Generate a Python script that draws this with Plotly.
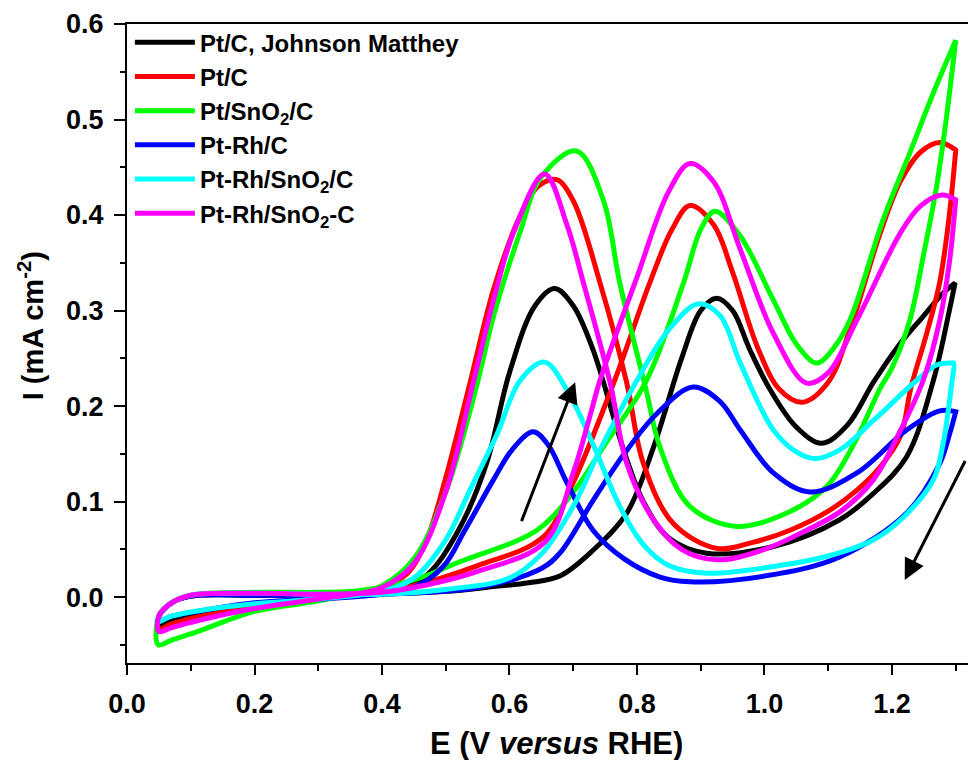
import plotly.graph_objects as go

# ---------------- data ----------------
series_names = ["Pt/C, Johnson Matthey", "Pt/C", "Pt/SnO<sub>2</sub>/C",
                "Pt-Rh/C", "Pt-Rh/SnO<sub>2</sub>/C", "Pt-Rh/SnO<sub>2</sub>-C"]
series_colors = ["#000000", "#FF0000", "#00FF00", "#0000FF", "#00FFFF", "#FF00FF"]

# Pt/C, Johnson Matthey (black)
jm_fwd_E = [0.05, 0.07, 0.10, 0.20, 0.30, 0.40, 0.50, 0.575, 0.63, 0.679, 0.731, 0.784, 0.826, 0.87, 0.90, 0.925, 0.95, 0.977, 1.009, 1.05, 1.09, 1.13, 1.171, 1.21, 1.249, 1.28, 1.299]
jm_fwd_I = [-0.02, -0.006, 0.001, 0.002, 0.002, 0.003, 0.006, 0.011, 0.015, 0.022, 0.049, 0.088, 0.157, 0.25, 0.30, 0.313, 0.300, 0.259, 0.217, 0.178, 0.161, 0.180, 0.225, 0.263, 0.294, 0.318, 0.329]
jm_bwd_E = [1.299, 1.29, 1.265, 1.223, 1.17, 1.118, 1.014, 0.909, 0.85, 0.81, 0.779, 0.731, 0.70, 0.671, 0.64, 0.60, 0.564, 0.52, 0.47, 0.42, 0.35, 0.27, 0.20, 0.12, 0.07, 0.05]
jm_bwd_I = [0.329, 0.30, 0.227, 0.147, 0.108, 0.081, 0.053, 0.046, 0.062, 0.10, 0.154, 0.259, 0.305, 0.323, 0.305, 0.235, 0.14, 0.07, 0.023, 0.008, 0.002, -0.004, -0.008, -0.016, -0.024, -0.03]

# Pt/C (red)
ptc_fwd_E = [0.05, 0.07, 0.10, 0.20, 0.30, 0.40, 0.45, 0.55, 0.653, 0.70, 0.765, 0.82, 0.855, 0.883, 0.92, 0.95, 0.99, 1.024, 1.059, 1.10, 1.134, 1.181, 1.213, 1.245, 1.275, 1.30]
ptc_fwd_I = [-0.02, -0.006, 0.001, 0.003, 0.003, 0.006, 0.012, 0.033, 0.063, 0.12, 0.227, 0.329, 0.385, 0.41, 0.39, 0.34, 0.26, 0.217, 0.204, 0.225, 0.28, 0.38, 0.435, 0.466, 0.476, 0.468]
ptc_bwd_E = [1.30, 1.29, 1.275, 1.254, 1.23, 1.213, 1.18, 1.145, 1.10, 1.04, 0.98, 0.925, 0.857, 0.81, 0.784, 0.742, 0.70, 0.674, 0.645, 0.616, 0.575, 0.538, 0.50, 0.47, 0.44, 0.40, 0.35, 0.27, 0.20, 0.115, 0.07, 0.05]
ptc_bwd_I = [0.468, 0.40, 0.33, 0.275, 0.22, 0.168, 0.135, 0.112, 0.09, 0.07, 0.057, 0.051, 0.077, 0.14, 0.224, 0.329, 0.415, 0.437, 0.43, 0.398, 0.322, 0.224, 0.125, 0.06, 0.025, 0.01, 0.003, -0.004, -0.01, -0.02, -0.028, -0.033]

# Pt/SnO2/C (green)
ptsn_fwd_E = [0.05, 0.07, 0.10, 0.20, 0.30, 0.366, 0.45, 0.522, 0.643, 0.70, 0.75, 0.815, 0.873, 0.90, 0.922, 0.96, 1.014, 1.05, 1.082, 1.11, 1.134, 1.186, 1.228, 1.265, 1.30]
ptsn_fwd_I = [-0.02, -0.006, 0.002, 0.005, 0.005, 0.007, 0.018, 0.037, 0.07, 0.11, 0.16, 0.227, 0.329, 0.385, 0.404, 0.38, 0.311, 0.265, 0.245, 0.262, 0.29, 0.395, 0.465, 0.528, 0.583]
ptsn_bwd_E = [1.30, 1.285, 1.27, 1.25, 1.228, 1.20, 1.181, 1.14, 1.098, 1.035, 0.956, 0.883, 0.836, 0.815, 0.773, 0.747, 0.705, 0.65, 0.616, 0.575, 0.548, 0.50, 0.45, 0.40, 0.30, 0.20, 0.115, 0.07, 0.049]
ptsn_bwd_I = [0.583, 0.50, 0.43, 0.36, 0.29, 0.24, 0.218, 0.16, 0.116, 0.088, 0.074, 0.095, 0.157, 0.215, 0.329, 0.416, 0.467, 0.44, 0.381, 0.294, 0.22, 0.11, 0.04, 0.012, -0.004, -0.015, -0.035, -0.045, -0.05]

# Pt-Rh/C (blue)
ptrh_fwd_E = [0.05, 0.07, 0.10, 0.20, 0.30, 0.40, 0.55, 0.65, 0.679, 0.73, 0.78, 0.831, 0.888, 0.93, 0.962, 1.014, 1.071, 1.145, 1.223, 1.275, 1.30]
ptrh_fwd_I = [-0.02, -0.006, 0.001, 0.002, 0.002, 0.003, 0.01, 0.03, 0.046, 0.10, 0.15, 0.192, 0.22, 0.205, 0.175, 0.13, 0.11, 0.13, 0.175, 0.195, 0.194]
ptrh_bwd_E = [1.30, 1.29, 1.275, 1.223, 1.118, 1.0, 0.883, 0.836, 0.78, 0.731, 0.69, 0.66, 0.637, 0.605, 0.575, 0.53, 0.496, 0.45, 0.40, 0.30, 0.20, 0.12, 0.07, 0.05]
ptrh_bwd_I = [0.194, 0.17, 0.14, 0.088, 0.042, 0.022, 0.016, 0.021, 0.04, 0.07, 0.12, 0.16, 0.173, 0.155, 0.123, 0.07, 0.032, 0.01, 0.003, -0.002, -0.006, -0.014, -0.02, -0.025]

# Pt-Rh/SnO2/C (cyan)
ptrhsn_fwd_E = [0.05, 0.07, 0.10, 0.20, 0.30, 0.40, 0.50, 0.60, 0.65, 0.70, 0.742, 0.80, 0.85, 0.896, 0.93, 0.962, 1.014, 1.05, 1.079, 1.12, 1.171, 1.239, 1.27, 1.295]
ptrhsn_fwd_I = [-0.02, -0.006, 0.002, 0.004, 0.003, 0.003, 0.008, 0.02, 0.045, 0.095, 0.154, 0.227, 0.28, 0.307, 0.295, 0.245, 0.175, 0.152, 0.145, 0.155, 0.185, 0.227, 0.243, 0.245]
ptrhsn_bwd_E = [1.297, 1.294, 1.28, 1.265, 1.22, 1.171, 1.10, 1.014, 0.909, 0.85, 0.81, 0.773, 0.731, 0.69, 0.655, 0.617, 0.58, 0.538, 0.50, 0.45, 0.40, 0.30, 0.20, 0.115, 0.07, 0.047]
ptrhsn_bwd_I = [0.245, 0.225, 0.16, 0.123, 0.085, 0.060, 0.043, 0.032, 0.025, 0.033, 0.055, 0.095, 0.16, 0.217, 0.246, 0.227, 0.17, 0.112, 0.06, 0.02, 0.006, -0.002, -0.007, -0.014, -0.02, -0.026]

# Pt-Rh/SnO2-C (magenta)
ptrhsnc_fwd_E = [0.05, 0.07, 0.10, 0.20, 0.30, 0.40, 0.45, 0.55, 0.656, 0.70, 0.726, 0.742, 0.80, 0.85, 0.883, 0.92, 0.962, 1.014, 1.066, 1.10, 1.145, 1.213, 1.244, 1.278, 1.30]
ptrhsnc_fwd_I = [-0.02, -0.006, 0.002, 0.004, 0.003, 0.005, 0.01, 0.027, 0.058, 0.13, 0.189, 0.227, 0.335, 0.425, 0.454, 0.435, 0.364, 0.276, 0.224, 0.235, 0.29, 0.381, 0.409, 0.421, 0.416]
ptrhsnc_bwd_E = [1.30, 1.29, 1.275, 1.249, 1.21, 1.171, 1.12, 1.066, 1.0, 0.925, 0.87, 0.826, 0.784, 0.758, 0.716, 0.69, 0.655, 0.606, 0.575, 0.543, 0.50, 0.45, 0.40, 0.30, 0.20, 0.115, 0.07, 0.05]
ptrhsnc_bwd_I = [0.416, 0.35, 0.29, 0.227, 0.17, 0.123, 0.09, 0.07, 0.05, 0.039, 0.05, 0.081, 0.14, 0.224, 0.329, 0.39, 0.443, 0.381, 0.311, 0.224, 0.11, 0.035, 0.01, -0.002, -0.012, -0.024, -0.032, -0.036]

fwd_E = [jm_fwd_E, ptc_fwd_E, ptsn_fwd_E, ptrh_fwd_E, ptrhsn_fwd_E, ptrhsnc_fwd_E]
fwd_I = [jm_fwd_I, ptc_fwd_I, ptsn_fwd_I, ptrh_fwd_I, ptrhsn_fwd_I, ptrhsnc_fwd_I]
bwd_E = [jm_bwd_E, ptc_bwd_E, ptsn_bwd_E, ptrh_bwd_E, ptrhsn_bwd_E, ptrhsnc_bwd_E]
bwd_I = [jm_bwd_I, ptc_bwd_I, ptsn_bwd_I, ptrh_bwd_I, ptrhsn_bwd_I, ptrhsnc_bwd_I]

# scan-direction arrows (tail -> tip), in data units
arrow_fwd = dict(tail=(0.618, 0.078), tip=(0.703, 0.225))
arrow_bwd = dict(tail=(1.316, 0.144), tip=(1.22, 0.018))

x_ticks = [0.0, 0.2, 0.4, 0.6, 0.8, 1.0, 1.2]
y_ticks = [0.0, 0.1, 0.2, 0.3, 0.4, 0.5, 0.6]

FONT = "Arial, 'Liberation Sans', Helvetica, sans-serif"

fig = go.Figure()
for name, col, fe, fi, be, bi in zip(series_names, series_colors, fwd_E, fwd_I, bwd_E, bwd_I):
    fig.add_trace(go.Scatter(
        x=fe + be + fe[:1], y=fi + bi + fi[:1],
        mode="lines", name=name,
        line=dict(color=col, width=5, shape="spline", smoothing=1.0),
        hoverinfo="skip",
    ))

for arr in (arrow_fwd, arrow_bwd):
    fig.add_annotation(
        x=arr["tip"][0], y=arr["tip"][1], ax=arr["tail"][0], ay=arr["tail"][1],
        xref="x", yref="y", axref="x", ayref="y", text="", showarrow=True,
        arrowhead=2, arrowsize=1.4, arrowwidth=3, arrowcolor="black",
    )

# axis titles
fig.add_annotation(
    text="E (V <i>versus</i> RHE)", xref="paper", yref="paper", x=0.506, y=0,
    xanchor="center", yanchor="middle", yshift=-80, showarrow=False,
    font=dict(family=FONT, size=31, weight="bold", color="black"),
)
fig.add_annotation(
    text="I (mA cm<sup>-2</sup>)", xref="paper", yref="paper", x=0, y=0.527,
    xanchor="center", yanchor="middle", xshift=-96, textangle=-90, showarrow=False,
    font=dict(family=FONT, size=29, weight="bold", color="black"),
)

# the page adds an 8px body margin, so the figure is 8px smaller than the window
fig.update_layout(
    width=968, height=752,
    margin=dict(l=119, r=0, t=16, b=97),
    paper_bgcolor="white", plot_bgcolor="white",
    font=dict(family=FONT, color="black"),
    showlegend=True,
    legend=dict(
        x=0.0034, y=1.006, xanchor="left", yanchor="top",
        bgcolor="rgba(0,0,0,0)", borderwidth=0,
        font=dict(family=FONT, size=24, weight="bold", color="black"),
        itemwidth=60, tracegroupgap=0,
    ),
    xaxis=dict(
        range=[0, 1.3318], showgrid=False, zeroline=False, automargin=False,
        showline=True, linecolor="black", linewidth=2, mirror=True,
        ticks="outside", ticklen=10, tickwidth=1.5, tickcolor="black",
        tickvals=x_ticks, ticktext=[f"{v:.1f}" for v in x_ticks],
        tickfont=dict(family=FONT, size=27, weight="bold"), ticklabelstandoff=6,
        minor=dict(dtick=0.1, tick0=0, ticks="outside", ticklen=6, tickwidth=1.5, tickcolor="black"),
    ),
    yaxis=dict(
        range=[-0.069, 0.6], showgrid=False, zeroline=False, automargin=False,
        showline=True, linecolor="black", linewidth=2, mirror=False,
        ticks="outside", ticklen=11, tickwidth=1.5, tickcolor="black",
        tickvals=y_ticks, ticktext=[f"{v:.1f}" for v in y_ticks],
        tickfont=dict(family=FONT, size=27, weight="bold"), ticklabelstandoff=5,
        minor=dict(dtick=0.05, tick0=0, ticks="outside", ticklen=5, tickwidth=1.5, tickcolor="black"),
    ),
)

fig.write_html("out.html")
